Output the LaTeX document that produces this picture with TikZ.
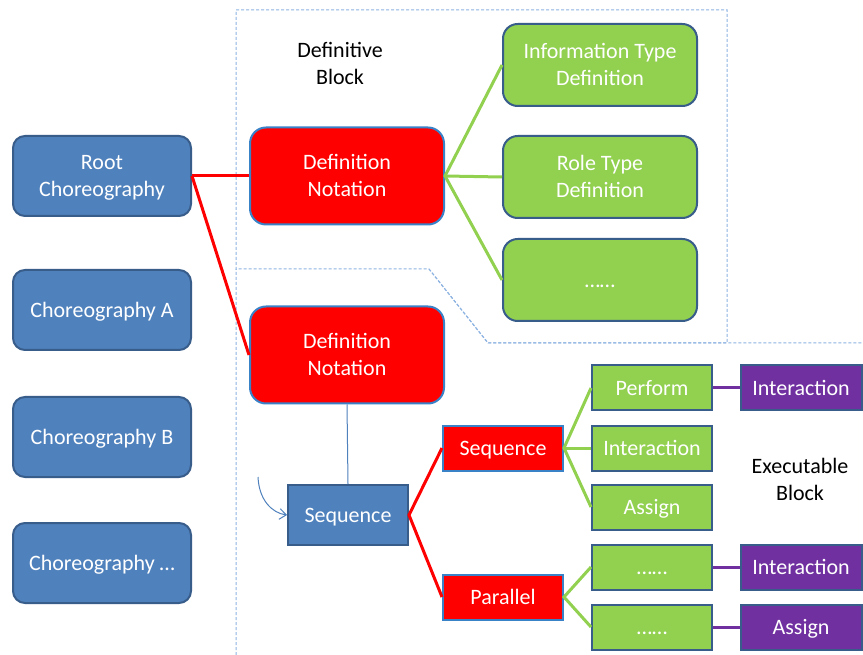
\documentclass[tikz,border=0pt]{standalone}
\usepackage{fontspec}
\setmainfont{Carlito}
\usetikzlibrary{arrows.meta}
\definecolor{cBlue}{HTML}{4F81BD}
\definecolor{cBlueDark}{HTML}{385D8A}
\definecolor{cEdgeBlue}{HTML}{3A82C8}
\definecolor{cGreen}{HTML}{92D050}
\definecolor{cPurple}{HTML}{7030A0}
\definecolor{cDash}{HTML}{8DB3E2}
% strut that centres the capitals of a line on the node centre
\newcommand{\capstrut}{\rule[-4.4pt]{0pt}{19.4pt}}
\begin{document}
\begin{tikzpicture}[x=0.75pt,y=-0.75pt,
  every node/.style={font=\fontsize{16.5}{20}\selectfont, align=center, inner sep=0pt,
    execute at begin node=\capstrut, execute at end node=\capstrut},
  box/.style={draw, line width=1.5pt, text=white},
  chorbox/.style={box, fill=cBlue, draw=cBlueDark, rounded corners=9pt,
    minimum width=133.5pt, minimum height=60pt},
  defbox/.style={box, fill=red, draw=cEdgeBlue, rounded corners=12pt,
    minimum width=145.5pt, minimum height=72.75pt},
  typebox/.style={box, fill=cGreen, draw=cBlueDark, rounded corners=11pt,
    minimum width=145.5pt, minimum height=61.5pt},
  seqbox/.style={box, fill=cBlue, draw=cBlueDark,
    minimum width=90pt, minimum height=45pt},
  ctrlbox/.style={box, fill=red, draw=cEdgeBlue,
    minimum width=90pt, minimum height=33.75pt},
  actbox/.style={box, fill=cGreen, draw=cBlueDark,
    minimum width=90pt, minimum height=33.75pt},
  leafbox/.style={box, fill=cPurple, draw=cBlueDark,
    minimum width=90.75pt, minimum height=33.75pt},
  blocklabel/.style={text=black},
  redlink/.style={draw=red, line width=2.25pt},
  greenlink/.style={draw=cGreen, line width=2.25pt},
  purplelink/.style={draw=cPurple, line width=2.25pt},
  thinlink/.style={draw=cBlue, line width=0.75pt},
  region/.style={draw=cDash, line width=0.75pt, dash pattern=on 2.25pt off 1.5pt}
]
\useasboundingbox (0,0) rectangle (863,655);
\fill[white] (0,0) rectangle (863,655);

% block outlines
\draw[region] (236,270) -- (236,10) -- (727,10) -- (727,343) -- (488,343)
  -- (429,269) -- (236,269);
\draw[region] (236,655) -- (236,269) (429,269) -- (488,343) -- (863,343);

% block titles
\node[blocklabel] (defblock) at (340,64) {\capstrut Definitive\\\capstrut Block};
\node[blocklabel] (exeblock) at (800,480) {\capstrut Executable\\\capstrut Block};

% choreographies
\node[chorbox] (root) at (102,176) {\capstrut Root\\\capstrut Choreography};
\node[chorbox] (chA) at (102,310) {Choreography A};
\node[chorbox] (chB) at (102,437) {Choreography B};
\node[chorbox] (chC) at (102,563) {Choreography \dots};

% definition notations
\node[defbox] (dn1) at (347,176) {\capstrut Definition\\\capstrut Notation};
\node[defbox] (dn2) at (347,355) {\capstrut Definition\\\capstrut Notation};

% type definitions
\node[typebox] (info) at (600,65) {\capstrut Information Type\\\capstrut Definition};
\node[typebox] (role) at (600,177) {\capstrut Role Type\\\capstrut Definition};
\node[typebox] (more) at (600,280) {\dots\dots};

% executable part
\node[seqbox] (seq) at (348,515) {Sequence};
\node[ctrlbox] (rseq) at (503,448) {Sequence};
\node[ctrlbox] (par) at (503,597) {Parallel};

\node[actbox] (perf) at (652,388) {Perform};
\node[actbox] (inter) at (652,448) {Interaction};
\node[actbox] (assign) at (652,507) {Assign};
\node[actbox] (dotsA) at (652,567) {\dots\dots};
\node[actbox] (dotsB) at (652,627) {\dots\dots};

\node[leafbox] (pinter) at (801,388) {Interaction};
\node[leafbox] (ainter) at (801,567) {Interaction};
\node[leafbox] (aassign) at (801,627) {Assign};

% connectors
\draw[redlink] (root.east) -- (dn1.west);
\draw[redlink] (root.east) -- (dn2.west);
\draw[greenlink] (more.west) -- (dn1.east) -- (info.west);
\draw[greenlink] (dn1.east) -- (role.west);
\draw[thinlink] (dn2.south) -- (seq.north);
\draw[redlink] (rseq.west) -- (seq.east) -- (par.west);
\draw[greenlink] (perf.west) -- (rseq.east) -- (assign.west);
\draw[greenlink] (rseq.east) -- (inter.west);
\draw[greenlink] (dotsA.west) -- (par.east) -- (dotsB.west);
\draw[purplelink] (perf.east) -- (pinter.west);
\draw[purplelink] (dotsA.east) -- (ainter.west);
\draw[purplelink] (dotsB.east) -- (aassign.west);

% entry arrow into the sequence
\coordinate (entry) at (258,477);
\draw[thinlink, -{Straight Barb[length=5pt,width=8pt]}]
  (entry) .. controls (259,500) and (272,513) .. (seq.west);
\end{tikzpicture}
\end{document}
